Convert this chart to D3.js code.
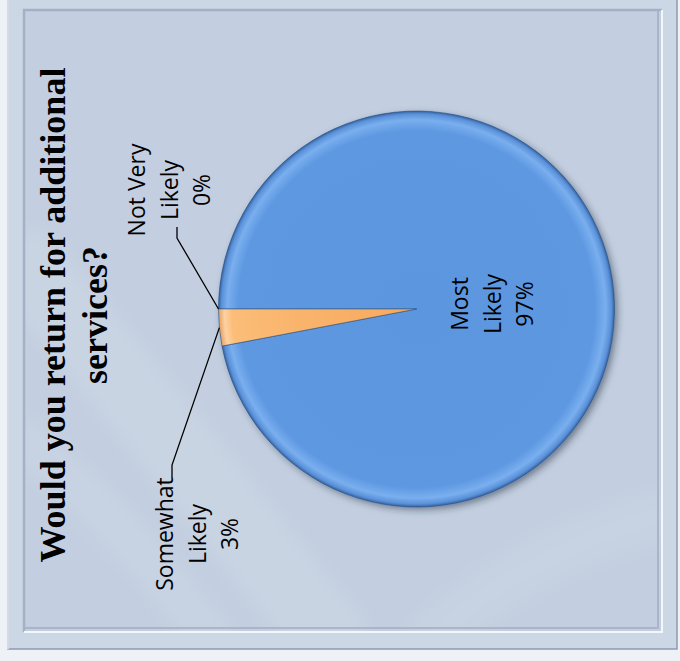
<!DOCTYPE html>
<html>
<head>
<meta charset="utf-8">
<script src="https://cdn.jsdelivr.net/npm/d3@7"></script>
<style>
  html, body { margin: 0; padding: 0; background: #eef2f7; }
  svg { display: block; }
</style>
</head>
<body>
<svg id="chart" width="680" height="661"></svg>
<script>
// ---- data ----
const categories = ["Most Likely", "Somewhat Likely", "Not Very Likely"];
const values = [97, 3, 0];
const titleLines = ["Would you return for additional", "services?"];

// ---- layout ----
const W = 680, H = 661;
const cx = 416.5, cy = 309, R = 198;
const svg = d3.select("#chart");
const defs = svg.append("defs");

// page + outer frame
svg.append("rect").attr("width", W).attr("height", H).attr("fill", "#eef2f7");
svg.append("rect").attr("x", 8).attr("y", -2).attr("width", 669).attr("height", 651)
  .attr("fill", "#ccd7e6").attr("stroke", "#8f9bad").attr("stroke-width", 1.5);
svg.append("line").attr("x1", 8).attr("y1", 0).attr("x2", 8).attr("y2", 649)
  .attr("stroke", "#e4ebf4").attr("stroke-width", 1.5);
// inner panel fill
svg.append("rect").attr("x", 24).attr("y", 10).attr("width", 638).attr("height", 622).attr("fill", "#c3cfe0");

// faint light swooshes (blurred), clipped to panel
const clip = defs.append("clipPath").attr("id", "panelClip");
clip.append("rect").attr("x", 24).attr("y", 10).attr("width", 638).attr("height", 622);
const blur = defs.append("filter").attr("id", "soft").attr("x", "-30%").attr("y", "-30%").attr("width", "160%").attr("height", "160%");
blur.append("feGaussianBlur").attr("stdDeviation", 10);
const sw = svg.append("g").attr("clip-path", "url(#panelClip)")
  .append("g").attr("fill", "none").attr("stroke", "#ffffff").attr("filter", "url(#soft)");
sw.append("path").attr("d", "M10,250 C110,360 200,480 340,650").attr("stroke-width", 70).attr("stroke-opacity", 0.10);
sw.append("path").attr("d", "M10,430 C100,500 160,570 220,650").attr("stroke-width", 40).attr("stroke-opacity", 0.08);
sw.append("path").attr("d", "M420,650 C500,570 600,530 680,510").attr("stroke-width", 50).attr("stroke-opacity", 0.06);

// bevel edges of inner panel
svg.append("path").attr("d", "M24,632 L24,10 L662,10").attr("fill", "none").attr("stroke", "#a3b1c4").attr("stroke-width", 2.5);
svg.append("path").attr("d", "M25,628 L658,628 L658,11").attr("fill", "none").attr("stroke", "#aab6c8").attr("stroke-width", 2);
svg.append("path").attr("d", "M24,632 L662,632 L662,10").attr("fill", "none").attr("stroke", "#f3f6fa").attr("stroke-width", 2);

// gradients for bevel
function radial(id, stops) {
  const g = defs.append("radialGradient").attr("id", id)
    .attr("gradientUnits", "userSpaceOnUse").attr("cx", 0).attr("cy", 0).attr("r", R);
  stops.forEach(s => g.append("stop").attr("offset", s[0]).attr("stop-color", s[1]));
}
radial("gBlue", [[0, "#5b96df"], [0.9, "#5d98e1"], [0.955, "#7aafef"], [0.985, "#5990d8"], [1, "#33619f"]]);
radial("gOrange", [[0, "#f7a95d"], [0.6, "#f9b46c"], [0.93, "#fbbd78"], [0.97, "#fdd2a2"], [1, "#e3a060"]]);
const sh = defs.append("filter").attr("id", "shadow").attr("x", "-20%").attr("y", "-20%").attr("width", "140%").attr("height", "140%");
sh.append("feDropShadow").attr("dx", 3).attr("dy", 3).attr("stdDeviation", 3.5)
  .attr("flood-color", "#1e2a3a").attr("flood-opacity", 0.5);

const fills = { "Most Likely": "url(#gBlue)", "Somewhat Likely": "url(#gOrange)", "Not Very Likely": "url(#gOrange)" };

const data = categories.map((c, i) => ({ category: c, value: values[i] }));
const pie = d3.pie().sort(null).value(d => d.value)
  .startAngle(-Math.PI / 2).endAngle(3 * Math.PI / 2);
const arcs = pie(data);
const arc = d3.arc().innerRadius(0).outerRadius(R);

const pieG = svg.append("g").attr("transform", `translate(${cx},${cy})`);
pieG.append("circle").attr("r", R).attr("fill", "#5b96df").attr("filter", "url(#shadow)");
pieG.selectAll("path.slice").data(arcs.filter(a => a.value > 0)).join("path")
  .attr("class", "slice")
  .attr("d", arc)
  .attr("fill", d => fills[d.data.category])
  .attr("stroke", "#2f4f78").attr("stroke-width", 0.8).attr("stroke-opacity", 0.7);

// ---- labels ----
const fmt = v => `${v}%`;
function splitName(n) {
  const k = n.lastIndexOf(" ");
  return [n.slice(0, k), n.slice(k + 1)];
}
const labelPos = {
  "Most Likely":     { y: 304, x0: 468, leader: null },
  "Somewhat Likely": { y: 534, x0: 173, leader: [[172, 465], [172, 478]] },
  "Not Very Likely": { y: 190, x0: 145, leader: [[177, 238], [177, 227]] }
};
const lineStep = 32.5;
const labG = svg.append("g").attr("font-family", "'Open Sans', 'Noto Sans', sans-serif")
  .attr("font-size", 23).attr("fill", "#000");

arcs.forEach(a => {
  const p = labelPos[a.data.category];
  const lines = splitName(a.data.category).concat([fmt(a.data.value)]);
  const t = labG.append("text")
    .attr("transform", `translate(0,${p.y}) rotate(-90)`)
    .attr("text-anchor", "middle");
  lines.forEach((ln, i) => t.append("tspan").attr("x", 0).attr("y", p.x0 + i * lineStep).text(ln));
  if (p.leader) {
    const mid = (a.startAngle + a.endAngle) / 2;
    const px = cx + R * Math.sin(mid), py = cy - R * Math.cos(mid);
    const pts = [[px, py]].concat(p.leader);
    svg.append("path").attr("d", d3.line()(pts))
      .attr("fill", "none").attr("stroke", "#000").attr("stroke-width", 1.3);
  }
});

// ---- title ----
const tt = svg.append("text")
  .attr("transform", `translate(0,315) rotate(-90)`)
  .attr("text-anchor", "middle")
  .attr("font-family", "'Palatino Linotype', 'Book Antiqua', 'Liberation Serif', serif")
  .attr("font-weight", "bold").attr("font-size", 36).attr("fill", "#000");
titleLines.forEach((ln, i) => tt.append("tspan").attr("x", 0).attr("y", 65 + i * 42).text(ln));
</script>
</body>
</html>
